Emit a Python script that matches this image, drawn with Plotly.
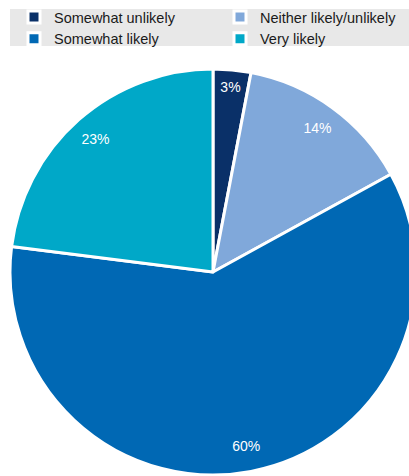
import plotly.graph_objects as go

categories = ["Somewhat unlikely", "Neither likely/unlikely", "Somewhat likely", "Very likely"]
values = [3, 14, 60, 23]
colors = ["#0a3068", "#80a8da", "#0068b4", "#00a8c8"]

W, H = 460, 476
cx, cy, r = 213, 272, 203  # pixel centre (from top) and radius

dom_x = [(cx - r) / W, (cx + r) / W]
dom_y = [(H - cy - r) / H, (H - cy + r) / H]

fig = go.Figure()
fig.add_trace(go.Pie(
    labels=categories, values=values, sort=False, direction="clockwise", rotation=0,
    marker=dict(colors=colors, line=dict(color="white", width=3)),
    textinfo="none", hoverinfo="label+percent",
    domain=dict(x=dom_x, y=dom_y),
))
# transparent ring carrying the percentage labels near the outer edge
fig.add_trace(go.Pie(
    labels=categories, values=values, sort=False, direction="clockwise", rotation=0,
    hole=0.75, showlegend=False,
    marker=dict(colors=["rgba(0,0,0,0)"] * 4, line=dict(width=0)),
    texttemplate="%{value}%", textposition="inside", insidetextorientation="horizontal",
    insidetextfont=dict(color="white", size=14, family="Liberation Sans, Arial"),
    hoverinfo="skip",
    domain=dict(x=dom_x, y=dom_y),
))

# grey legend background band
fig.add_shape(type="rect", xref="paper", yref="paper",
              x0=10 / W, x1=1, y0=1 - 46 / H, y1=1 - 9 / H,
              fillcolor="#e8e8e8", line=dict(width=0), layer="below")

fig.update_layout(
    width=W, height=H,
    margin=dict(l=0, r=0, t=0, b=0),
    paper_bgcolor="white",
    font=dict(family="Liberation Sans, Arial", size=14.5, color="#1a1a1a"),
    legend=dict(
        orientation="h", x=14 / W, y=1 - 1 / H, xanchor="left", yanchor="top",
        bgcolor="rgba(0,0,0,0)", entrywidth=161, entrywidthmode="pixels",
        traceorder="normal", font=dict(size=14.5, color="#1a1a1a"),
        itemclick=False, itemdoubleclick=False,
    ),
)

fig.write_html("out.html", post_script="document.documentElement.style.overflow='hidden';document.body.style.overflow='hidden';")
